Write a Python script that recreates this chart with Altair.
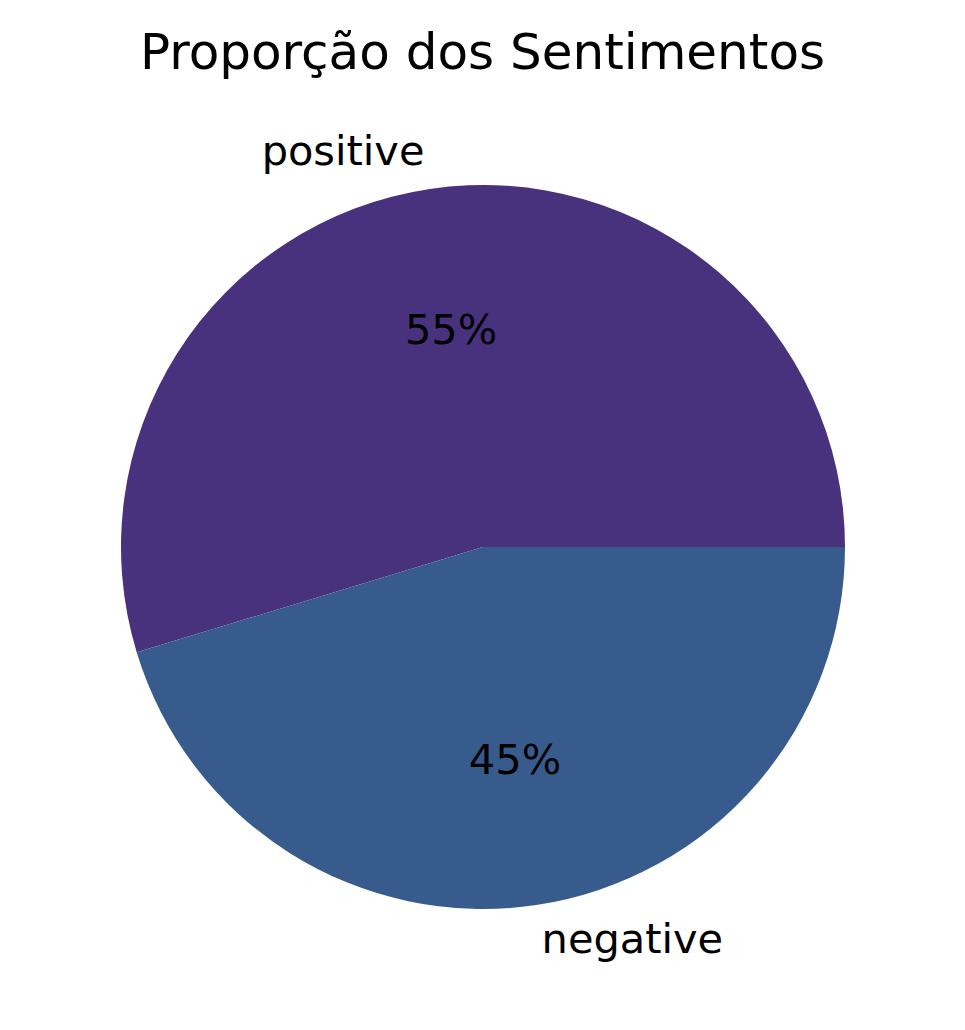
import math
import altair as alt
import pandas as pd

sentiments = ["positive", "negative"]
shares = [0.547, 0.453]
colors = ["#48327e", "#375b8c"]

df = pd.DataFrame({"sentiment": sentiments, "share": shares, "order": [0, 1]})

W, H = 949, 1014
CX, CY = 475, 539
R = 362
FONT = "DejaVu Sans"

theta_scale = alt.Scale(range=[math.pi / 2, math.pi / 2 - 2 * math.pi])

base = alt.Chart(df).encode(
    theta=alt.Theta("share:Q", stack=True, scale=theta_scale),
    order=alt.Order("order:Q"),
    x=alt.value(CX),
    y=alt.value(CY),
)

arcs = base.mark_arc(radius=R, stroke=None).encode(
    color=alt.Color("sentiment:N", scale=alt.Scale(domain=sentiments, range=colors), legend=None)
)

pct = base.mark_text(radius=R * 0.6, font=FONT, fontSize=41.5, color="black",
                     align="center", baseline="middle").encode(
    text=alt.Text("share:Q", format=".0%")
)

lab_pos = base.mark_text(radius=R * 1.1, font=FONT, fontSize=41.5, color="black",
                         align="right", baseline="middle").encode(
    text="sentiment:N",
    opacity=alt.condition(alt.datum.sentiment == "positive", alt.value(1), alt.value(0)),
)

lab_neg = base.mark_text(radius=R * 1.1, font=FONT, fontSize=41.5, color="black",
                         align="left", baseline="middle").encode(
    text="sentiment:N",
    opacity=alt.condition(alt.datum.sentiment == "negative", alt.value(1), alt.value(0)),
)

chart = alt.layer(arcs, pct, lab_pos, lab_neg).properties(
    width=W,
    height=H,
    autosize=alt.AutoSizeParams(type="none"),
    padding=0,
    title=alt.TitleParams(
        "Proporção dos Sentimentos",
        font=FONT,
        fontSize=50,
        fontWeight="normal",
        color="black",
        anchor="middle",
        orient="top",
        offset=-96,
        baseline="middle",
    ),
).configure_view(stroke=None)

chart.save("out.html", embed_options={"renderer": "svg", "actions": False})
